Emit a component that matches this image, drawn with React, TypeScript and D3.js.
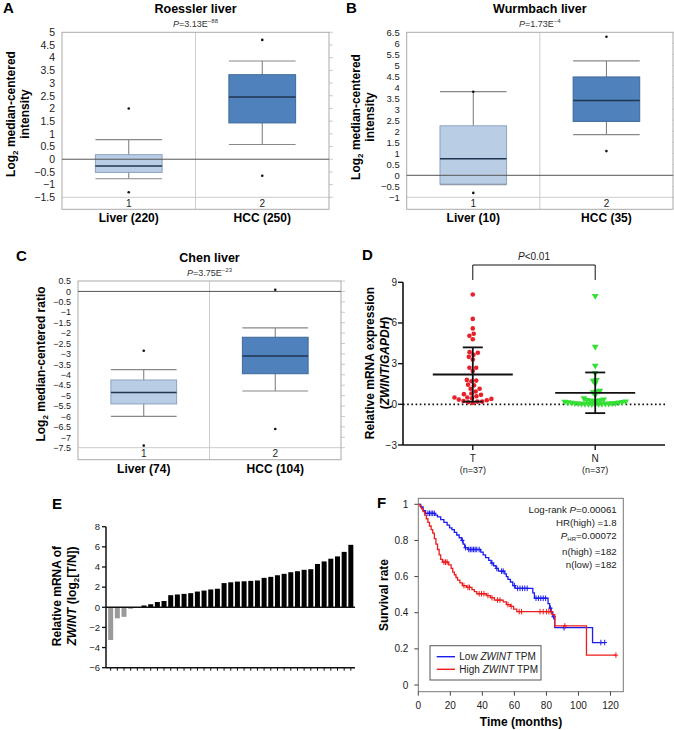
import React from 'react';
import * as d3 from 'd3';

const FONT = '"Liberation Sans", Arial, Helvetica, sans-serif';

// A-C: Oncomine box plots, each box = [p10, q1, median, q3, p90], extremes = [min, max]
const boxGroups = ['1', '2'];

const roesslerLabels = ['Liver (220)', 'HCC (250)'];
const roesslerBoxes = [
  [-0.77, -0.52, -0.27, 0.18, 0.77],
  [0.58, 1.43, 2.45, 3.33, 3.87],
];
const roesslerExtremes = [[-1.3, 2.0], [-0.65, 4.7]];

const wurmbachLabels = ['Liver (10)', 'HCC (35)'];
const wurmbachBoxes = [
  [-0.42, -0.4, 0.75, 2.25, 3.8],
  [1.85, 2.45, 3.4, 4.47, 5.2],
];
const wurmbachExtremes = [[-0.8, 3.8], [1.1, 6.3]];

const chenLabels = ['Liver (74)', 'HCC (104)'];
const chenBoxes = [
  [-6.0, -5.4, -4.85, -4.25, -3.75],
  [-4.78, -3.95, -3.1, -2.2, -1.75],
];
const chenExtremes = [[-7.4, -2.85], [-6.6, 0.08]];

// D: qPCR scatter
const qpcrGroups = ['T', 'N'];
const tumorValues = [
  8.1, 6.3, 5.6, 5.2, 5.05, 4.8, 3.85, 3.8, 3.65, 3.5, 3.3, 2.7, 2.7, 2.45, 1.8, 1.75, 1.7, 1.45, 1.4,
  1.15, 1.15, 0.95, 0.8, 0.75, 0.7, 0.6, 0.5, 0.5, 0.45, 0.4, 0.35, 0.3, 0.25, 0.2, 0.2, 0.15, 0.1,
];
const normalValues = [
  8.0, 4.25, 2.85, 2.3, 1.8, 1.75, 1.55, 1.0, 0.95, 0.9, 0.7, 0.45, 0.35, 0.32, 0.3, 0.28, 0.26, 0.24,
  0.22, 0.2, 0.18, 0.16, 0.14, 0.12, 0.1, 0.09, 0.08, 0.07, 0.06, 0.05, 0.05, 0.04, 0.04, 0.03, 0.03,
  0.02, 0.02,
];
const qpcrMean = [2.2, 0.85];
const qpcrSd = [2.0, 1.5];
const qpcrTicks = [-3, 0, 3, 6, 9];

// E: paired log2(T/N)
const pairValues = [
  -3.25, -1.1, -0.95, -0.15, 0.02, 0.18, 0.3, 0.52, 0.62, 1.2, 1.27, 1.33, 1.4, 1.56, 1.66, 1.77, 1.84,
  2.4, 2.48, 2.55, 2.58, 2.62, 2.66, 2.92, 3.02, 3.18, 3.32, 3.48, 3.58, 3.72, 3.78, 4.3, 4.55, 4.82,
  5.05, 5.5, 6.2,
];
const pairTicks = [-6, -4, -2, 0, 2, 4, 6, 8];

// F: Kaplan-Meier steps [month, survival]
const lowSteps = [
  [0, 1], [1.5, 0.985], [3, 0.965], [4.5, 0.95], [10.5, 0.94], [12, 0.93], [14, 0.915], [16, 0.9],
  [18, 0.885], [19.5, 0.87], [21, 0.86], [22.5, 0.845], [24, 0.83], [25.5, 0.815], [27, 0.8],
  [28, 0.78], [29, 0.76], [31, 0.75], [39, 0.735], [40.5, 0.72], [42, 0.705], [44, 0.69],
  [45.5, 0.675], [47, 0.66], [48.5, 0.645], [50, 0.63], [54, 0.615], [55, 0.6], [56, 0.585],
  [57.5, 0.57], [59, 0.55], [60.5, 0.535], [71.5, 0.51], [72.5, 0.48], [81, 0.45], [82, 0.425],
  [83, 0.4], [84, 0.378], [85.2, 0.317], [108.8, 0.235],
];
const lowEnd = 116.4;
const lowCensor = [6, 7, 8, 9, 10, 27.5, 29.5, 31.5, 32.5, 33.5, 34.5, 35.5, 36.5, 38, 46, 49, 52, 53,
  60, 62, 63.5, 65, 66.5, 68, 73.5, 75, 76.5, 78, 79.5, 82.5, 84.5, 91, 114, 116.4];

const highSteps = [
  [0, 1], [1, 0.99], [2, 0.975], [3, 0.96], [4, 0.94], [5, 0.92], [6, 0.9], [7, 0.88], [8, 0.86],
  [9, 0.84], [10, 0.81], [11, 0.78], [12, 0.75], [13, 0.72], [14, 0.695], [15, 0.68], [19, 0.665],
  [20.5, 0.645], [21.5, 0.625], [22.5, 0.61], [23.5, 0.595], [24.5, 0.58], [26, 0.565], [27.5, 0.55],
  [30, 0.54], [33.5, 0.528], [35, 0.517], [36.5, 0.505], [42.5, 0.495], [45, 0.483], [47.5, 0.47],
  [53, 0.46], [55, 0.445], [57.5, 0.435], [59.5, 0.42], [61.5, 0.406], [83.5, 0.39], [85.2, 0.327],
  [105, 0.165],
];
const highEnd = 123.4;
const highCensor = [16, 17, 18, 28.5, 31, 32, 38, 39.5, 41, 43.5, 46, 49.5, 51, 56, 58, 63, 64.5, 76,
  78, 80, 81.5, 83, 91.5, 123.4];

const kmXTicks = [0, 20, 40, 60, 80, 100, 120];
const kmYTicks = [0, 0.2, 0.4, 0.6, 0.8, 1];

const fmt = d3.format('');

function Letter({ x, y, children }: any) {
  return <text x={x} y={y} fontSize={15} fontWeight="bold">{children}</text>;
}

function BoxPanel(props: any) {
  const { left, right, top, rowY, domain, labels, boxes, extremes, title, pMain, pExp, yLines, yXs, yMid } = props;
  const y = d3.scaleLinear().domain(domain).range([rowY, top]);
  const x = d3.scaleBand().domain(boxGroups).range([left, right]);
  const bottom = rowY + 12;
  const ticks = d3.range(domain[0], domain[1] + 1e-6, 0.5);
  const tickSize = Math.min(10.5, (y(0) - y(0.5)) * 0.86);
  const bw = x.bandwidth() * 0.5;
  const cx = (left + right) / 2;
  const fills = ['#b9cde5', '#4f81bd'];
  const strokes = ['#8ea3c0', '#3d6899'];
  return (
    <g>
      <text x={cx} y={top - 19} textAnchor="middle" fontSize={12.5} fontWeight="bold">{title}</text>
      <text x={cx} y={top - 5.5} textAnchor="middle" fontSize={9} fill="#333">
        <tspan fontStyle="italic">P</tspan>={pMain}
        <tspan fontSize={6} dy={-3.5}>{pExp}</tspan>
      </text>
      {ticks.map(t => (
        <g key={t}>
          <text x={left - 7} y={y(t) + tickSize * 0.36} textAnchor="end" fontSize={tickSize} fill="#222">{fmt(t)}</text>
          <line x1={right} x2={right + 4} y1={y(t)} y2={y(t)} stroke="#ccc" />
        </g>
      ))}
      <line x1={left} x2={right} y1={rowY} y2={rowY} stroke="#ccc" />
      <line x1={cx} x2={cx} y1={top} y2={bottom} stroke="#ccc" />
      <rect x={left} y={top} width={right - left} height={bottom - top} fill="none" stroke="#aaa" />
      {boxGroups.map((g, i) => {
        const c = (x(g) as number) + x.bandwidth() / 2;
        const [lo, q1, med, q3, hi] = boxes[i];
        return (
          <g key={g}>
            <line x1={c} x2={c} y1={y(hi)} y2={y(lo)} stroke="#777" />
            <line x1={c - bw / 2} x2={c + bw / 2} y1={y(hi)} y2={y(hi)} stroke="#888" strokeWidth={1.2} />
            <line x1={c - bw / 2} x2={c + bw / 2} y1={y(lo)} y2={y(lo)} stroke="#888" strokeWidth={1.2} />
            <rect x={c - bw / 2} y={y(q3)} width={bw} height={y(q1) - y(q3)} fill={fills[i]} stroke={strokes[i]} />
            <line x1={c - bw / 2} x2={c + bw / 2} y1={y(med)} y2={y(med)} stroke="#1f3550" strokeWidth={1.5} />
            {extremes[i].map((v: number, k: number) => (
              <circle key={k} cx={c} cy={y(v)} r={1.3} fill="#111" />
            ))}
            <text x={c} y={rowY + 9.5} textAnchor="middle" fontSize={10} fill="#222">{g}</text>
            <text x={c} y={bottom + 13} textAnchor="middle" fontSize={12} fontWeight="bold">{labels[i]}</text>
          </g>
        );
      })}
      <line x1={left} x2={right} y1={y(0)} y2={y(0)} stroke="#555" />
      {yLines.map((ln: any, i: number) => (
        <text key={i} transform={`translate(${yXs[i]},${yMid}) rotate(-90)`} textAnchor="middle" fontSize={12} fontWeight="bold">
          {typeof ln === 'string' ? ln : (
            <>
              Log<tspan fontSize={8} dy={3}>2</tspan><tspan dy={-3}>{ln.rest}</tspan>
            </>
          )}
        </text>
      ))}
    </g>
  );
}

function swarm(values: number[], y: (v: number) => number, d: number) {
  const order = d3.range(values.length).sort((a, b) => values[a] - values[b]);
  const placed: { x: number; y: number }[] = [];
  const offsets: number[] = new Array(values.length).fill(0);
  for (const i of order) {
    const yi = y(values[i]);
    const blocks: [number, number][] = [];
    for (const p of placed) {
      const dy = Math.abs(p.y - yi);
      if (dy < d) {
        const w = Math.sqrt(d * d - dy * dy);
        blocks.push([p.x - w, p.x + w]);
      }
    }
    const cands = [0, ...blocks.flatMap(b => [b[0], b[1]])].sort((a, b) => Math.abs(a) - Math.abs(b));
    const xi = cands.find(c => blocks.every(b => c <= b[0] + 1e-6 || c >= b[1] - 1e-6)) ?? 0;
    offsets[i] = xi;
    placed.push({ x: xi, y: yi });
  }
  return offsets;
}

function ScatterPanel() {
  const left = 403, right = 665;
  const y = d3.scaleLinear().domain([-3, 9]).range([445, 282.3]);
  const x = d3.scalePoint().domain(qpcrGroups).range([left, right]).padding(0.57);
  const xt = x('T') as number, xn = x('N') as number;
  const tOff = swarm(tumorValues, y, 4.8);
  const nOff = swarm(normalValues, y, 3.4);
  const tri = d3.symbol().type(d3.symbolTriangle).size(20)();
  return (
    <g>
      <Letter x={362} y={260}>D</Letter>
      <path d={`M${xt},280V265H${xn}V280`} fill="none" stroke="#111" />
      <text x={(xt + xn) / 2} y={259.5} textAnchor="middle" fontSize={10} fill="#222">
        <tspan fontStyle="italic">P</tspan>{'<0.01'}
      </text>
      <line x1={left} x2={right} y1={y(0)} y2={y(0)} stroke="#111" strokeWidth={1.6} strokeDasharray="1.6,2.6" />
      {tumorValues.map((v, i) => (
        <circle key={i} cx={xt + tOff[i]} cy={y(v)} r={2.3} fill="#e8202a" />
      ))}
      {normalValues.map((v, i) => (
        <path key={i} d={tri as string} transform={`translate(${xn + nOff[i]},${y(v)}) rotate(180)`} fill="#35e035" />
      ))}
      {qpcrGroups.map((g, i) => {
        const c = x(g) as number;
        const m = qpcrMean[i], s = qpcrSd[i];
        return (
          <g key={g} stroke="#111" strokeWidth={1.8}>
            <line x1={c - 40} x2={c + 40} y1={y(m)} y2={y(m)} />
            <line x1={c} x2={c} y1={y(m + s)} y2={y(m - s)} />
            <line x1={c - 10} x2={c + 10} y1={y(m + s)} y2={y(m + s)} />
            <line x1={c - 10} x2={c + 10} y1={y(m - s)} y2={y(m - s)} />
          </g>
        );
      })}
      <line x1={left} x2={left} y1={y(9)} y2={y(-3)} stroke="#111" strokeWidth={1.6} />
      <line x1={left} x2={right} y1={y(-3)} y2={y(-3)} stroke="#111" strokeWidth={1.6} />
      {qpcrTicks.map(t => (
        <g key={t}>
          <line x1={left - 5} x2={left} y1={y(t)} y2={y(t)} stroke="#111" strokeWidth={1.4} />
          <text x={left - 6} y={y(t) + 3.5} textAnchor="end" fontSize={10} fill="#222">{fmt(t)}</text>
        </g>
      ))}
      {qpcrGroups.map(g => (
        <g key={g}>
          <line x1={x(g)} x2={x(g)} y1={445} y2={450} stroke="#111" strokeWidth={1.4} />
          <text x={x(g)} y={462} textAnchor="middle" fontSize={10} fill="#222">{g}</text>
          <text x={x(g)} y={473} textAnchor="middle" fontSize={9} fill="#222">(n=37)</text>
        </g>
      ))}
      <text transform="translate(373.5,363) rotate(-90)" textAnchor="middle" fontSize={12} fontWeight="bold">Relative mRNA expression</text>
      <text transform="translate(389,363) rotate(-90)" textAnchor="middle" fontSize={12} fontWeight="bold">
        (<tspan fontStyle="italic">ZWINT</tspan>/<tspan fontStyle="italic">GAPDH</tspan>)
      </text>
    </g>
  );
}

function BarPanel() {
  const left = 106, right = 355;
  const y = d3.scaleLinear().domain([-6, 8]).range([667.7, 526.7]);
  const x = d3.scaleBand<number>().domain(d3.range(pairValues.length)).range([left + 0.5, right]).padding(0.25);
  return (
    <g>
      <Letter x={52} y={509}>E</Letter>
      {pairValues.map((v, i) => (
        <rect key={i} x={x(i)} width={x.bandwidth()} y={y(Math.max(0, v))} height={Math.abs(y(v) - y(0))}
          fill={v < 0 ? '#9a9a9a' : '#000'} />
      ))}
      <line x1={left} x2={right} y1={y(0)} y2={y(0)} stroke="#111" strokeWidth={1.5} />
      <line x1={left} x2={right} y1={y(-6)} y2={y(-6)} stroke="#111" strokeWidth={1.5} />
      <line x1={left} x2={left} y1={y(8)} y2={y(-6)} stroke="#111" strokeWidth={1.5} />
      {pairValues.map((v, i) => (
        <line key={i} x1={(x(i) as number) + x.bandwidth() / 2} x2={(x(i) as number) + x.bandwidth() / 2}
          y1={y(-6)} y2={y(-6) + 3} stroke="#111" />
      ))}
      {pairTicks.map(t => (
        <g key={t}>
          <line x1={left - 4} x2={left} y1={y(t)} y2={y(t)} stroke="#111" strokeWidth={1.3} />
          <text x={left - 6} y={y(t) + 3.3} textAnchor="end" fontSize={9.5} fill="#222">{fmt(t)}</text>
        </g>
      ))}
      <text transform="translate(61,596) rotate(-90)" textAnchor="middle" fontSize={12} fontWeight="bold">Relative mRNA of</text>
      <text transform="translate(76,596) rotate(-90)" textAnchor="middle" fontSize={12} fontWeight="bold">
        <tspan fontStyle="italic">ZWINT</tspan> (log<tspan fontSize={8} dy={3}>2</tspan><tspan dy={-3}>[T/N])</tspan>
      </text>
    </g>
  );
}

function survAt(steps: number[][], t: number) {
  let s = 1;
  for (const [m, v] of steps) if (m <= t) s = v;
  return s;
}

function KmPanel() {
  const left = 418.3, right = 623.3;
  const x = d3.scaleLinear().domain([0, 128]).range([left, right]);
  const y = d3.scaleLinear().domain([0, 1]).range([685, 504.3]);
  const top = y(1.033), bottom = y(-0.037);
  const line = d3.line<number[]>().x(d => x(d[0])).y(d => y(d[1])).curve(d3.curveStepAfter);
  const curves = [
    { steps: lowSteps, end: lowEnd, censor: lowCensor, color: '#1c1cf0' },
    { steps: highSteps, end: highEnd, censor: highCensor, color: '#ee1c1c' },
  ];
  return (
    <g>
      <Letter x={377} y={508}>F</Letter>
      {curves.map((c, k) => {
        const pts = [...c.steps, [c.end, c.steps[c.steps.length - 1][1]]];
        return (
          <g key={k} stroke={c.color} fill="none" strokeWidth={1.3}>
            <path d={line(pts) as string} />
            {c.censor.map((t, i) => {
              const s = survAt(c.steps, t);
              return (
                <path key={i} d={`M${x(t)},${y(s) - 2.8}V${y(s) + 2.8}M${x(t) - 2.2},${y(s)}H${x(t) + 2.2}`} strokeWidth={1} />
              );
            })}
          </g>
        );
      })}
      <rect x={left} y={top} width={right - left} height={bottom - top} fill="none" stroke="#777" />
      {kmYTicks.map(t => (
        <g key={t}>
          <line x1={left - 4} x2={left} y1={y(t)} y2={y(t)} stroke="#444" />
          <text x={left - 10} y={y(t) + 3.5} textAnchor="end" fontSize={10} fill="#222">{fmt(t)}</text>
        </g>
      ))}
      {kmXTicks.map(t => (
        <g key={t}>
          <line x1={x(t)} x2={x(t)} y1={bottom} y2={bottom + 4} stroke="#444" />
          <text x={x(t)} y={708.5} textAnchor="middle" fontSize={10} fill="#222">{t}</text>
        </g>
      ))}
      <text x={521} y={726} textAnchor="middle" fontSize={12} fontWeight="bold">Time (months)</text>
      <text transform="translate(387.5,595) rotate(-90)" textAnchor="middle" fontSize={12} fontWeight="bold">Survival rate</text>
      <g fontSize={9.7} fill="#222" textAnchor="end">
        <text x={616.7} y={512.5}>Log-rank <tspan fontStyle="italic">P</tspan>=0.00061</text>
        <text x={616.7} y={525.5}>HR(high) =1.8</text>
        <text x={616.7} y={539}>
          <tspan fontStyle="italic">P</tspan><tspan fontSize={6} dy={2}>HR</tspan><tspan dy={-2}>=0.00072</tspan>
        </text>
        <text x={616.7} y={554.5}>n(high) =182</text>
        <text x={616.7} y={567.5}>n(low) =182</text>
      </g>
      <rect x={430} y={645.7} width={111} height={34.3} fill="#fff" stroke="#555" />
      <line x1={436.7} x2={455} y1={656.7} y2={656.7} stroke="#1c1cf0" strokeWidth={1.4} />
      <line x1={436.7} x2={455} y1={669.3} y2={669.3} stroke="#ee1c1c" strokeWidth={1.4} />
      <text x={459.3} y={660.2} fontSize={10} fill="#222">Low <tspan fontStyle="italic">ZWINT</tspan> TPM</text>
      <text x={459.3} y={672.8} fontSize={10} fill="#222">High <tspan fontStyle="italic">ZWINT</tspan> TPM</text>
    </g>
  );
}

export default function App() {
  return (
    <svg width={674} height={730} style={{ position: 'absolute', left: 0, top: 0, background: '#fff' }}
      fontFamily={FONT}>
      <Letter x={3} y={13}>A</Letter>
      <BoxPanel left={62} right={329} top={32.3} rowY={197.3} domain={[-1.5, 5]}
        labels={roesslerLabels} boxes={roesslerBoxes} extremes={roesslerExtremes}
        title="Roessler liver" pMain="3.13E" pExp="−88"
        yLines={[{ rest: ' median-centered' }, 'intensity']} yXs={[14.5, 29]} yMid={114} />
      <Letter x={346} y={13}>B</Letter>
      <BoxPanel left={406.7} right={673} top={32.3} rowY={197.3} domain={[-1, 6.5]}
        labels={wurmbachLabels} boxes={wurmbachBoxes} extremes={wurmbachExtremes}
        title="Wurmbach liver" pMain="1.73E" pExp="−4"
        yLines={[{ rest: ' median-centered' }, 'intensity']} yXs={[359.5, 374]} yMid={117} />
      <Letter x={16} y={261}>C</Letter>
      <BoxPanel left={78} right={341} top={281} rowY={447.7} domain={[-7.5, 0.5]}
        labels={chenLabels} boxes={chenBoxes} extremes={chenExtremes}
        title="Chen liver" pMain="3.75E" pExp="−23"
        yLines={[{ rest: ' median-centered ratio' }]} yXs={[44.5]} yMid={364} />
      <ScatterPanel />
      <BarPanel />
      <KmPanel />
    </svg>
  );
}
